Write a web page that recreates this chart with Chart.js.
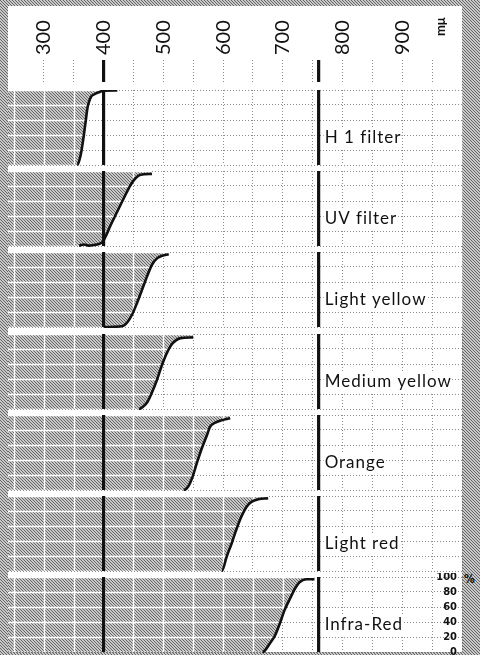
<!DOCTYPE html>
<html>
<head>
<meta charset="utf-8">
<script src="https://cdn.jsdelivr.net/npm/chart.js@4.4.0/dist/chart.umd.min.js"></script>
<style>
html, body { margin: 0; padding: 0; }
body { width: 480px; height: 655px; position: relative; overflow: hidden; background-color: #a8a8a8; }
#sheet { position: absolute; left: 8px; top: 6px; width: 454px; height: 646px; background: #fff; }
canvas { position: absolute; left: 8px; }
#pct { position: absolute; left: 464px; top: 572px; font: bold 12px 'Liberation Sans Narrow', 'DejaVu Sans Condensed', sans-serif; color: #111; }
</style>
</head>
<body>
<div id="sheet"></div>
<div id="pct"></div>
<script>
// filter names, top to bottom
var filterNames = ['H 1 filter', 'UV filter', 'Light yellow', 'Medium yellow', 'Orange', 'Light red', 'Infra-Red'];

// wavelength (mμ) and transmission (%)
var h1Nm = [356, 361, 364, 367, 370, 373, 375.5, 379, 384, 392, 400, 423];
var h1T = [0, 11, 24, 40, 58, 76, 84, 91, 94, 97, 99, 99.5];
var uvNm = [359, 367, 375, 384, 392, 399, 403, 412, 423, 434, 445, 453, 462, 481];
var uvT = [0.5, 2, 0.5, 1.3, 2.7, 6, 12, 28, 46, 64, 81, 90, 95, 96];
var lightYellowNm = [400, 431, 439.5, 448, 456, 464.5, 473, 481, 489.5, 498, 509];
var lightYellowT = [0, 1, 6, 17, 32, 50, 68, 83, 91.5, 95, 97];
var mediumYellowNm = [459, 466, 474, 481, 489, 497, 505, 513, 521, 529, 550];
var mediumYellowT = [0, 3, 10, 22, 38, 57, 73, 85, 91.5, 94.5, 95.5];
var orangeNm = [534, 542, 548, 556, 564.5, 573, 578, 587, 595, 612];
var orangeT = [0, 5, 15.6, 35.6, 55.6, 73, 84, 89.7, 92.4, 95.6];
var lightRedNm = [598, 606, 614.5, 623, 631, 639.5, 648, 659, 675.5];
var lightRedT = [0, 19, 37, 57, 73, 85.7, 92.4, 95.6, 97];
var infraRedNm = [666, 670, 678, 687, 695, 703, 712, 720, 728, 739.5, 753];
var infraRedT = [0, 2, 11, 22, 38, 56, 71, 84, 93, 97, 97];

var filterNm = [h1Nm, uvNm, lightYellowNm, mediumYellowNm, orangeNm, lightRedNm, infraRedNm];
var filterT = [h1T, uvT, lightYellowT, mediumYellowT, orangeT, lightRedT, infraRedT];

// heavy vertical marks (violet / red limits)
var boldLines = [400, 760];

// axis range and ticks
var xMin = 240, xMax = 1000;
var xGrid = [250, 300, 350, 400, 450, 500, 550, 600, 650, 700, 750, 800, 850, 900, 950, 1000];
var headTicks = [300, 350, 400, 450, 500, 550, 600, 650, 700, 750, 800, 850, 900, 950];
var yTicks = [0, 20, 40, 60, 80, 100];
var unitLabel = 'mμ';
var pctLabel = '%';

// diagonal hatch tile
var hatchTile = document.createElement('canvas');
hatchTile.width = 3; hatchTile.height = 3;
(function () {
  var g = hatchTile.getContext('2d');
  g.fillStyle = '#c8c8c8'; g.fillRect(0, 0, 3, 3);
  g.fillStyle = '#666';
  for (var i = 0; i < 3; i++) g.fillRect(i, i, 1, 1);
})();
document.body.style.backgroundImage = 'url(' + hatchTile.toDataURL() + ')';
document.getElementById('pct').textContent = pctLabel;

// white grid on top of the hatched area
var hatchGrid = {
  id: 'hatchGrid',
  beforeDatasetDraw: function (chart, args) {
    if (!chart.data.datasets[args.index].hatch) return;
    var line = args.meta.dataset, pts = line.points, ctx = chart.ctx, a = chart.chartArea;
    var xs = chart.scales.x, ys = chart.scales.y;
    line.updateControlPoints(a, 'x');
    ctx.save();
    ctx.beginPath();
    line.path(ctx);
    ctx.lineTo(pts[pts.length - 1].x, a.top);
    ctx.lineTo(pts[0].x, a.top);
    ctx.closePath();
    ctx.clip();
    ctx.strokeStyle = '#fff';
    ctx.lineWidth = 1.4;
    ctx.beginPath();
    xs.ticks.forEach(function (t) {
      var x = Math.round(xs.getPixelForValue(t.value)) + 0.5;
      ctx.moveTo(x, a.top); ctx.lineTo(x, a.bottom);
    });
    ys.ticks.forEach(function (t) {
      var y = Math.round(ys.getPixelForValue(t.value)) + 0.5;
      ctx.moveTo(a.left, y); ctx.lineTo(a.right, y);
    });
    ctx.stroke();
    ctx.restore();
  }
};

// filter name written right of the 760 line
var panelLabel = {
  id: 'panelLabel',
  afterDatasetsDraw: function (chart, args, opts) {
    if (!opts.text) return;
    var ctx = chart.ctx, xs = chart.scales.x, ys = chart.scales.y;
    ctx.save();
    ctx.font = '17px Lato';
    ctx.letterSpacing = '1px';
    var w = ctx.measureText(opts.text).width;
    var x = xs.getPixelForValue(boldLines[1]) + 6;
    var y = ys.getPixelForValue(36);
    ctx.fillStyle = '#fff';
    ctx.fillRect(x - 1, y - 9, w + 1, 19);
    ctx.fillStyle = '#111';
    ctx.textBaseline = 'middle';
    ctx.fillText(opts.text, x, y);
    ctx.restore();
  }
};

function addCanvas(yPos, w, h) {
  var c = document.createElement('canvas');
  c.width = w; c.height = h;
  c.style.top = yPos + 'px';
  document.body.appendChild(c);
  return c;
}

function boldSets(yTop) {
  return boldLines.map(function (v) {
    return { data: [{ x: v, y: 0 }, { x: v, y: yTop }], borderColor: '#111', borderWidth: 3.2, pointRadius: 0, fill: false };
  });
}

// header with the wavelength scale
new Chart(addCanvas(6, 454, 78), {
  type: 'line',
  data: { datasets: boldSets(1) },
  options: {
    responsive: false, animation: false, events: [],
    layout: { padding: { top: 0, bottom: 2, left: 0, right: 0 }, autoPadding: false },
    plugins: { legend: { display: false }, tooltip: { enabled: false } },
    scales: {
      x: {
        type: 'linear', position: 'top', min: xMin, max: xMax,
        afterBuildTicks: function (s) { s.ticks = headTicks.map(function (v) { return { value: v }; }); },
        afterFit: function (s) { s.height = 54; s.paddingLeft = 0; s.paddingRight = 0; },
        grid: { color: '#8c8c8c', lineWidth: 1, drawTicks: false },
        border: { display: false, dash: [1, 2] },
        ticks: {
          autoSkip: false, minRotation: 90, maxRotation: 90, padding: 5, labelOffset: 24, color: '#111',
          font: function (c) { return c.tick && c.tick.value === 950 ? { family: 'Lato', size: 13, weight: 'bold' } : { family: 'Lato', size: 20 }; },
          callback: function (v) { return v % 100 === 0 ? String(v) : (v === 950 ? '      ' + unitLabel : ''); }
        }
      },
      y: { display: false, min: 0, max: 1 }
    }
  }
});

// one chart per filter
for (var i = 0; i < filterNames.length; i++) {
  var isLast = i === filterNames.length - 1;
  var panelTop = 90 + Math.round(i * 81.17);
  var pts = [{ x: xMin, y: 0 }].concat(filterNm[i].map(function (v, k) { return { x: v, y: filterT[i][k] }; }));
  var sets = [{
    data: pts, borderColor: '#111', borderWidth: 2.6, pointRadius: 0, fill: false,
    cubicInterpolationMode: 'monotone', clip: 4,
    segment: { borderColor: function (c) { return c.p0DataIndex === 0 ? 'transparent' : '#111'; } }
  }].concat(boldSets(100)).concat([{
    data: pts, hatch: true, borderColor: 'transparent', borderWidth: 0, pointRadius: 0,
    cubicInterpolationMode: 'monotone', fill: 'end',
    backgroundColor: function (c) { return c.chart.ctx.createPattern(hatchTile, 'repeat'); }
  }]);

  new Chart(addCanvas(isLast ? panelTop - 4 : panelTop, 455, isLast ? 82 : 76), {
    type: 'line',
    data: { datasets: sets },
    plugins: [hatchGrid, panelLabel],
    options: {
      responsive: false, animation: false, events: [],
      layout: { padding: { top: isLast ? 4 : 0, bottom: isLast ? 3 : 1, left: 0, right: 1 }, autoPadding: false },
      plugins: { legend: { display: false }, tooltip: { enabled: false }, panelLabel: { text: filterNames[i] } },
      scales: {
        x: {
          type: 'linear', min: xMin, max: xMax,
          afterBuildTicks: function (s) { s.ticks = xGrid.map(function (v) { return { value: v }; }); },
          grid: { color: '#8c8c8c', lineWidth: 1, drawTicks: false },
          border: { display: false, dash: [1, 2] },
          ticks: { display: false }
        },
        y: {
          min: 0, max: 100, position: isLast ? 'right' : 'left',
          afterBuildTicks: function (s) { s.ticks = yTicks.map(function (v) { return { value: v }; }); },
          afterFit: function (s) { s.width = 0; s.paddingTop = 0; s.paddingBottom = 0; },
          grid: { color: '#8c8c8c', lineWidth: 1, drawTicks: false },
          border: { display: false, dash: [1, 2] },
          ticks: {
            display: isLast, mirror: true, padding: -5, autoSkip: false, color: '#111',
            font: { family: "'Liberation Sans Narrow', 'DejaVu Sans Condensed', sans-serif", size: 11, weight: 'bold' }
          }
        }
      }
    }
  });
}
</script>
</body>
</html>
